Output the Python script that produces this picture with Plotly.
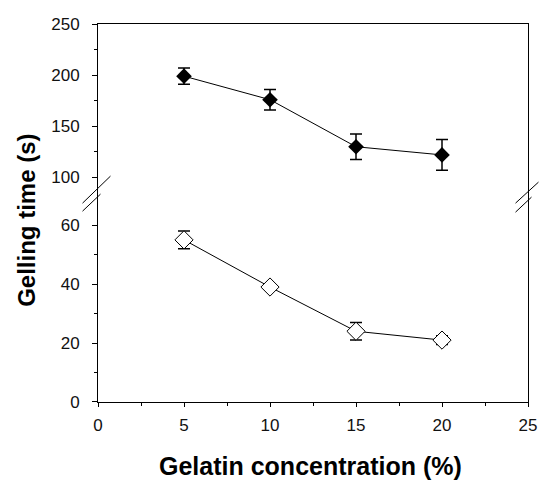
import plotly.graph_objects as go

concentration = [5, 10, 15, 20]
series_top = [199, 176, 130, 122]
err_top = [8, 10, 12.5, 15]
series_bottom = [55, 39, 24, 21]
err_bottom = [3, 0.8, 3, 1.5]

W, H = 539, 482
ml, mr, mt, mb = 97.5, 10.5, 24, 80.3
ph = H - mt - mb
pw = W - ml - mr
break_px = 197.0  # pixel y of the axis break
d = (H - mb - break_px) / ph

font_family = "Liberation Sans, Arial, sans-serif"

fig = go.Figure()
fig.add_trace(go.Scatter(
    x=concentration, y=series_top, xaxis="x2", yaxis="y2",
    mode="lines+markers",
    line=dict(color="black", width=1),
    marker=dict(symbol="diamond", size=12, color="black"),
    error_y=dict(type="data", array=err_top, color="black", thickness=1.5, width=6),
    showlegend=False,
))
fig.add_trace(go.Scatter(
    x=concentration, y=series_bottom, xaxis="x", yaxis="y",
    mode="lines+markers",
    line=dict(color="black", width=1),
    marker=dict(symbol="diamond", size=14, color="white", line=dict(color="black", width=1)),
    error_y=dict(type="data", array=err_bottom, color="black", thickness=1.5, width=6),
    showlegend=False,
))

tickfont = dict(family=font_family, size=17, color="#111")

fig.update_layout(
    width=W, height=H,
    margin=dict(l=ml, r=mr, t=mt, b=mb, pad=0),
    paper_bgcolor="white", plot_bgcolor="white",
    xaxis=dict(
        range=[0, 25], domain=[0, 1], anchor="y", automargin=False,
        tickvals=[0, 5, 10, 15, 20, 25], ticks="outside", ticklen=4, tickwidth=1,
        tickcolor="black", showline=True, linecolor="black", linewidth=1,
        showgrid=False, zeroline=False, tickfont=tickfont, ticklabelstandoff=4,
        ticklabeloverflow="allow",
        minor=dict(tickvals=[2.5, 7.5, 12.5, 17.5, 22.5], ticks="outside", ticklen=3, tickcolor="black"),
    ),
    xaxis2=dict(
        range=[0, 25], domain=[0, 1], anchor="y2", side="top", matches="x",
        showticklabels=False, ticks="", showline=True, linecolor="black", linewidth=1,
        showgrid=False, zeroline=False,
    ),
    yaxis=dict(
        range=[0, 69.5], domain=[0, d], anchor="x", automargin=False,
        tick0=0, dtick=20, ticks="outside", ticklen=5, tickwidth=1, tickcolor="black",
        showline=True, mirror=True, linecolor="black", linewidth=1,
        showgrid=False, zeroline=False, tickfont=tickfont, ticklabelstandoff=9,
        minor=dict(tick0=0, dtick=10, ticks="outside", ticklen=3, tickcolor="black"),
    ),
    yaxis2=dict(
        range=[100 - (break_px - 177.3) / 1.022, 250], domain=[d, 1], anchor="x2",
        automargin=False,
        tick0=0, dtick=50, ticks="outside", ticklen=5, tickwidth=1, tickcolor="black",
        showline=True, mirror=True, linecolor="black", linewidth=1,
        showgrid=False, zeroline=False, tickfont=tickfont, ticklabelstandoff=9,
        ticklabeloverflow="allow",
        minor=dict(tick0=0, dtick=25, ticks="outside", ticklen=3, tickcolor="black"),
    ),
)

def px_x(x):
    return (x - ml) / pw

def px_y(y):
    return (H - mb - y) / ph

fig.add_annotation(
    text="<b>Gelatin concentration (%)</b>", xref="paper", yref="paper",
    x=px_x(310), y=px_y(466), showarrow=False,
    font=dict(family=font_family, size=25, color="black"),
    xanchor="center", yanchor="middle",
)
fig.add_annotation(
    text="<b>Gelling time (s)</b>", xref="paper", yref="paper",
    x=px_x(25), y=px_y(220), showarrow=False, textangle=-90,
    font=dict(family=font_family, size=24, color="black"),
    xanchor="center", yanchor="middle",
)

for (x0, y0, x1, y1) in [(82, 203, 110, 176), (82, 211, 100, 194),
                         (516, 203, 539, 182), (516, 212, 532, 197)]:
    fig.add_shape(type="line", xref="paper", yref="paper",
                  x0=px_x(x0), y0=px_y(y0), x1=px_x(x1), y1=px_y(y1),
                  line=dict(color="black", width=1))

fig.write_html("out.html")
